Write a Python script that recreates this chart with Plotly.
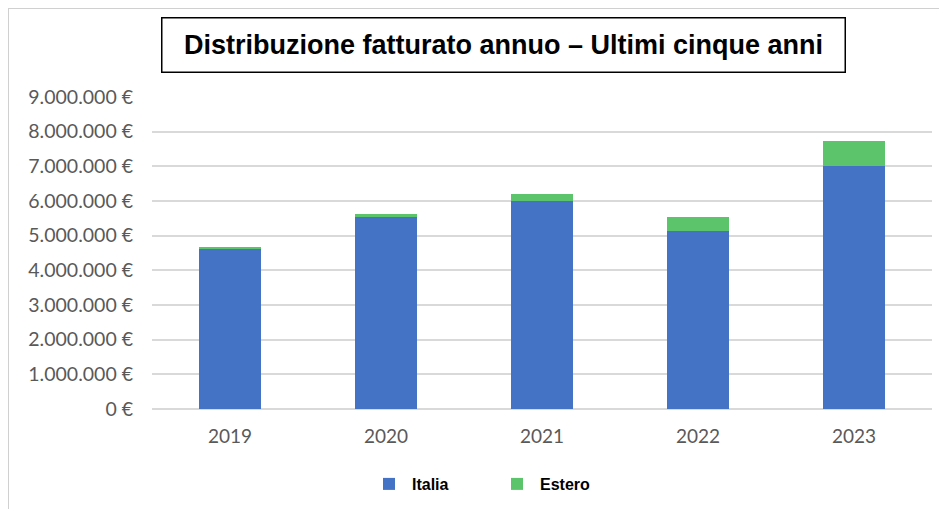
import plotly.graph_objects as go

years = ["2019", "2020", "2021", "2022", "2023"]
italia = [4620000, 5550000, 6000000, 5140000, 7010000]
estero = [40000, 70000, 190000, 410000, 720000]
y_ticks = [0, 1000000, 2000000, 3000000, 4000000, 5000000, 6000000, 7000000, 8000000, 9000000]
y_ticktext = [f"{v:,}".replace(",", ".") + " €" for v in y_ticks]

# page offset of the figure (browser body margin) is 8px
W, H = 939, 501
L, R, T, B = 144, 15, 89, 100
PW = W - L - R  # 780
PH = H - T - B  # 312

def px(pagex):
    return (pagex - 8 - L) / PW

def py(pagey):
    return (H - B - (pagey - 8)) / PH

fig = go.Figure()
fig.add_trace(go.Bar(x=years, y=italia, name="Italia", marker=dict(color="#4472C4", line=dict(width=0))))
fig.add_trace(go.Bar(x=years, y=estero, name="Estero", marker=dict(color="#5CC46A", line=dict(width=0))))

fig.update_layout(
    width=W, height=H,
    barmode="stack", bargap=0.6,
    paper_bgcolor="white", plot_bgcolor="white",
    margin=dict(l=L, r=R, t=T, b=B, autoexpand=False),
    showlegend=True,
    legend=dict(orientation="h", x=px(366), xanchor="left",
                y=py(484), yanchor="middle",
                font=dict(family="Liberation Sans", size=16, color="black", weight="bold"),
                entrywidth=77, itemwidth=36, traceorder="normal"),
    xaxis=dict(showgrid=False, showline=False, ticks="",
               tickfont=dict(family="Lato", size=19, color="#595959"),
               ticklabelstandoff=14),
    yaxis=dict(range=[0, 9000000], tickvals=y_ticks, ticktext=y_ticktext,
               showgrid=True, gridcolor="#D9D9D9", gridwidth=1.5,
               zeroline=True, zerolinecolor="#D9D9D9", zerolinewidth=1.5,
               showline=False, ticks="",
               tickfont=dict(family="Lato", size=19.5, color="#595959"),
               ticklabelstandoff=18),
    annotations=[
        dict(text="<b>Distribuzione fatturato annuo – Ultimi cinque anni</b>",
             xref="paper", yref="paper", x=px(503), y=py(45.5), yanchor="middle", xanchor="center",
             showarrow=False, font=dict(family="Liberation Sans", size=27, color="black"),
             bordercolor="black", borderwidth=1.5, borderpad=0, width=682, height=53,
             bgcolor="white"),
    ],
)
# outer light border (top and left edges of the chart frame)
fig.add_shape(type="line", xref="paper", yref="paper",
              x0=px(8), x1=px(947), y0=py(8), y1=py(8),
              line=dict(color="#D0D0D0", width=2))
fig.add_shape(type="line", xref="paper", yref="paper",
              x0=px(8), x1=px(8), y0=py(8), y1=py(509),
              line=dict(color="#D0D0D0", width=2))
fig.write_html("out.html")
